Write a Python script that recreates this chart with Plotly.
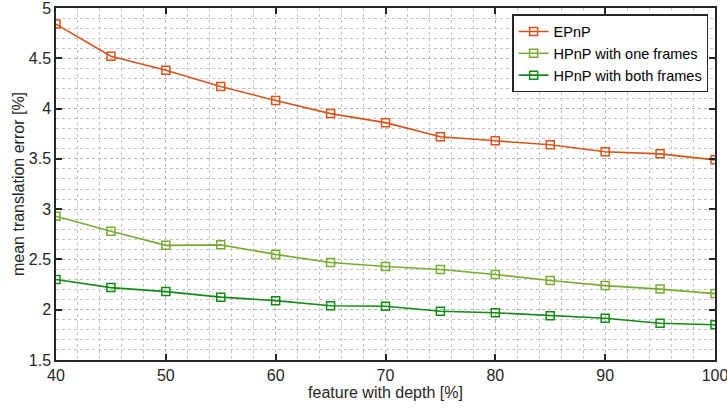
import plotly.graph_objects as go

x_vals = [40, 45, 50, 55, 60, 65, 70, 75, 80, 85, 90, 95, 100]
epnp = [4.84, 4.52, 4.38, 4.22, 4.08, 3.95, 3.86, 3.72, 3.68, 3.64, 3.57, 3.55, 3.49]
hpnp_one = [2.93, 2.78, 2.64, 2.645, 2.55, 2.47, 2.43, 2.40, 2.35, 2.29, 2.24, 2.205, 2.16]
hpnp_both = [2.30, 2.22, 2.18, 2.125, 2.09, 2.04, 2.035, 1.985, 1.97, 1.94, 1.915, 1.865, 1.85]
x_ticks = [40, 50, 60, 70, 80, 90, 100]
y_ticks = [1.5, 2, 2.5, 3, 3.5, 4, 4.5, 5]

series = [
    ("EPnP", epnp, "#D95319"),
    ("HPnP with one frames", hpnp_one, "#77AC30"),
    ("HPnP with both frames", hpnp_both, "#138A13"),
]

FONT = "Liberation Sans, Arial, sans-serif"

fig = go.Figure()
for name, vals, col in series:
    fig.add_trace(go.Scatter(
        x=x_vals, y=vals, name=name, mode="lines+markers",
        line=dict(color=col, width=1.6),
        marker=dict(symbol="square-open", size=8, color=col, line=dict(width=1.5)),
    ))

axis_common = dict(
    showline=True, linecolor="#262626", linewidth=1.5, mirror="ticks",
    ticks="inside", ticklen=6, tickcolor="#262626", tickwidth=1.5,
    showgrid=True, gridcolor="#b4b4b4", griddash="dot", gridwidth=1,
    zeroline=False, automargin=False, tickmode="array",
    ticklabeloverflow="allow",
    tickfont=dict(size=16, color="#262626", family=FONT),
    title_font=dict(size=16, color="#262626", family=FONT),
)

fig.update_xaxes(
    range=[40, 100], tickvals=x_ticks, ticktext=[str(v) for v in x_ticks],
    title_text="feature with depth [%]", title_standoff=4,
    minor=dict(dtick=2, showgrid=True, gridcolor="#c4c4c4", griddash="dot", gridwidth=1, ticks=""),
    **axis_common,
)
fig.update_yaxes(
    range=[1.5, 5], tickvals=y_ticks, ticktext=[f"{v:g}" for v in y_ticks],
    title_text="mean translation error [%]", title_standoff=0,
    minor=dict(dtick=0.1, showgrid=True, gridcolor="#c4c4c4", griddash="dot", gridwidth=1, ticks=""),
    **axis_common,
)

fig.update_layout(
    width=727, height=412,
    margin=dict(l=56, r=12, t=8, b=52),
    plot_bgcolor="white", paper_bgcolor="white",
    font=dict(family=FONT, size=15, color="#262626"),
    legend=dict(
        x=0.99, y=0.982, xanchor="right", yanchor="top",
        bgcolor="white", bordercolor="#262626", borderwidth=1.2,
        font=dict(size=14.5, color="#000000", family=FONT),
        tracegroupgap=0, itemwidth=30,
    ),
)

fig.write_html("out.html")
